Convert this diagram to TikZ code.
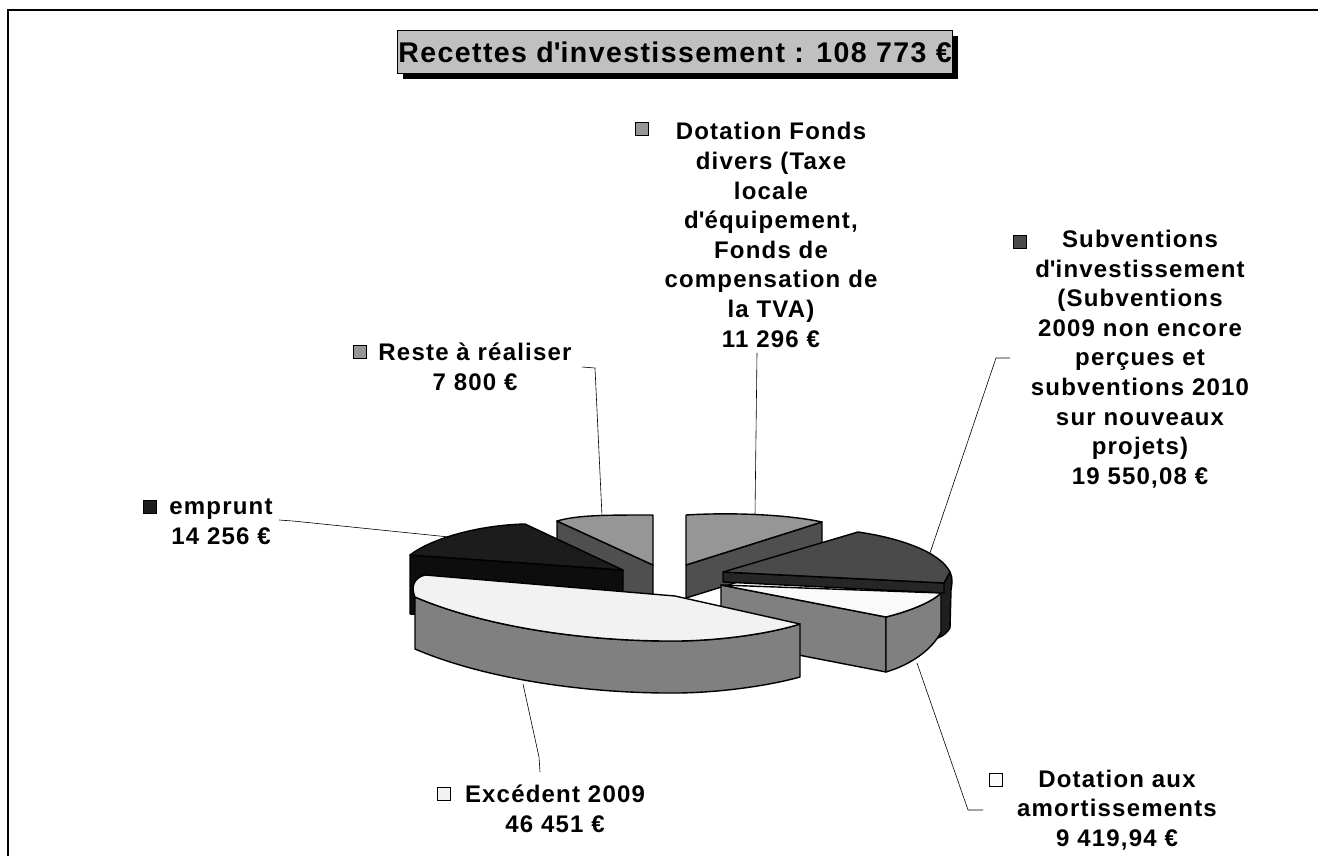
\documentclass[tikz,border=0pt]{standalone}
\usepackage{fontspec}
\setmainfont{Liberation Sans}
\newfontfamily\labfont{Liberation Sans}[LetterSpace=5]
\newfontfamily\titfont{Liberation Sans}[LetterSpace=5]
\definecolor{titleg}{HTML}{C0C0C0}
\definecolor{gA}{HTML}{969696}
\definecolor{gAs}{HTML}{4F4F4F}
\definecolor{emT}{HTML}{1C1C1C}
\definecolor{emS}{HTML}{0D0D0D}
\definecolor{exT}{HTML}{F2F2F2}
\definecolor{exS}{HTML}{808080}
\definecolor{suT}{HTML}{4A4A4A}
\definecolor{suS}{HTML}{262626}
\definecolor{suO}{HTML}{1F1F1F}
\definecolor{daT}{HTML}{FAFAFA}
\definecolor{daS}{HTML}{808080}
\newcommand{\q}{\textquotesingle}
\begin{document}
\begin{tikzpicture}[x=1pt,y=-1pt,
  face/.style={draw=black,line width=1.4,line join=round},
  lead/.style={draw=black,line width=0.6},
  keybox/.style={draw=black,line width=0.9,minimum size=13.5pt,inner sep=0pt},
  lab/.style={align=center,inner sep=0pt,font=\labfont\bfseries\fontsize{24}{29.6}\selectfont},
  titletext/.style={inner sep=0pt,font=\titfont\bfseries\fontsize{28.5}{32}\selectfont}]
\useasboundingbox (0,0) rectangle (1318,856);
% frame
\draw[line width=1.5] (1330,10) -- (8,10) -- (8,870);
% title
\fill[black] (403,36) rectangle (958,79);
\filldraw[fill=titleg,draw=black,line width=0.8] (397,30) rectangle (952,73);
\node[titletext] (title) at (675,52) {Recettes d\q investissement : 108 773 €};

% ---- pie slices (back to front) ----
% Reste a realiser
\path[face,fill=gAs] (557,521) -- (653,565) -- (653,625) -- (557,580) -- cycle;
\path[face,fill=gA] (557,521) .. controls (578,515) and (605,515) .. (653,515) -- (653,565) -- cycle;
% Dotation Fonds divers
\path[face,fill=gAs] (686,565) -- (822,522) -- (822,556) -- (686,598) -- cycle;
\path[face,fill=gA] (686,515) .. controls (735,512) and (790,515) .. (822,522) -- (686,565) -- cycle;
% emprunt
\path[face,fill=emS] (410,555) -- (623,570) -- (623,625) -- (410,614) -- cycle;
\path[face,fill=emT] (410,555) .. controls (432,538) and (480,525) .. (525,524) -- (623,570) -- cycle;
% Subventions
\path[face,fill=suO] (944,583) -- (950,572) .. controls (953,578) and (952,584) .. (951,590) -- (950,628) .. controls (947,633) and (943,636) .. (938,638) -- (938,590) -- cycle;
\path[face,fill=suS] (723,572) -- (944,583) -- (944,593) -- (723,582) -- cycle;
\path[face,fill=suT] (723,572) -- (858,532) .. controls (900,538) and (940,552) .. (950,572) -- (944,583) -- cycle;
% Dotation aux amortissements
\path[face,fill=daS] (721,585) -- (886,617) -- (886,672) -- (721,640) -- cycle;
\path[face,fill=daS] (886,617) .. controls (910,611) and (932,602) .. (941,593) -- (941,632) .. controls (932,650) and (910,665) .. (886,672) -- cycle;
\path[face,fill=daT] (721,585) -- (941,593) .. controls (932,602) and (910,611) .. (886,617) -- cycle;
% Excedent 2009
\path[face,fill=exS] (415,597) -- (415,649) .. controls (480,677) and (580,694) .. (680,693) .. controls (730,692) and (775,684) .. (800,677) -- (800,624) .. controls (775,632) and (730,640) .. (680,641) .. controls (580,642) and (480,625) .. (415,597) -- cycle;
\path[face,fill=exT] (425,575) -- (675,596) -- (800,624) .. controls (775,632) and (730,640) .. (680,641) .. controls (580,642) and (480,625) .. (415,597) .. controls (411,588) and (413,578) .. (425,575) -- cycle;

% ---- leader coordinates ----
\coordinate (dfA) at (757,353); \coordinate (dfB) at (755,515);
\coordinate (reA) at (582,367); \coordinate (reB) at (595,368); \coordinate (reC) at (602,516);
\coordinate (suA) at (1010,358); \coordinate (suB) at (996,358); \coordinate (suC) at (930,553);
\coordinate (emA) at (279,520); \coordinate (emB) at (293,521); \coordinate (emC) at (449,537);
\coordinate (exA) at (540,772); \coordinate (exB) at (539,757); \coordinate (exC) at (523,684);
\coordinate (daA) at (983,810); \coordinate (daB) at (968,810); \coordinate (daC) at (917,663);
\draw[lead] (dfA) -- (dfB);
\draw[lead] (reA) -- (reB) -- (reC);
\draw[lead] (suA) -- (suB) -- (suC);
\draw[lead] (emA) -- (emB) -- (emC);
\draw[lead] (exA) -- (exB) -- (exC);
\draw[lead] (daA) -- (daB) -- (daC);

% ---- labels ----
\node[keybox,fill=gA] (kDF) at (642,129) {};
\node[lab] (lDF) at (771,235) {Dotation Fonds\\divers (Taxe\\locale\\d\q équipement,\\Fonds de\\compensation de\\la TVA)\\11 296 €};
\node[keybox,fill=suT] (kSU) at (1020,242) {};
\node[lab] (lSU) at (1140,359) {Subventions\\d\q investissement\\(Subventions\\2009 non encore\\perçues et\\subventions 2010\\sur nouveaux\\projets)\\19 550,08 €};
\node[keybox,fill=gA] (kRE) at (360,352) {};
\node[lab] (lRE) at (475,367) {Reste à réaliser\\7 800 €};
\node[keybox,fill=emT] (kEM) at (150,507) {};
\node[lab] (lEM) at (221,522) {emprunt\\14 256 €};
\node[keybox,fill=exT] (kEX) at (444,794) {};
\node[lab] (lEX) at (555,809) {Excédent 2009\\46 451 €};
\node[keybox,fill=daT] (kDA) at (996,780) {};
\node[lab] (lDA) at (1117,810) {Dotation aux\\amortissements\\9 419,94 €};
\end{tikzpicture}
\end{document}
